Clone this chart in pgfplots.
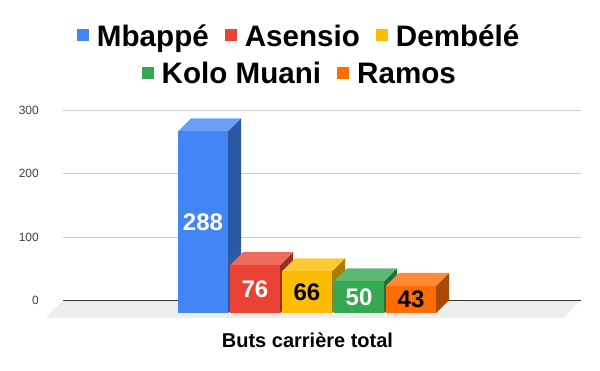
\documentclass[border=0pt]{standalone}
\usepackage{pgfplots}
\pgfplotsset{compat=1.18}
\usepackage{fontspec}
\setmainfont{Liberation Sans}
\definecolor{bF}{HTML}{4285F4}\definecolor{bS}{HTML}{2C59A3}\definecolor{bT}{HTML}{6C9EF6}
\definecolor{rF}{HTML}{EA4335}\definecolor{rS}{HTML}{9C2D23}\definecolor{rT}{HTML}{EE6B5E}
\definecolor{yF}{HTML}{FBBC04}\definecolor{yS}{HTML}{A77D03}\definecolor{yT}{HTML}{FCC935}
\definecolor{gF}{HTML}{34A853}\definecolor{gS}{HTML}{237038}\definecolor{gT}{HTML}{5DB975}
\definecolor{oF}{HTML}{FF6D01}\definecolor{oS}{HTML}{AA4901}\definecolor{oT}{HTML}{FF8A34}
\definecolor{floor}{HTML}{EEEEEE}
\definecolor{gridc}{HTML}{CCCCCC}
\definecolor{zeroc}{HTML}{333333}
\pgfplotsset{
  common/.style={
    at={(63pt,53pt)}, anchor=south west,
    width=518pt, height=207.3pt, scale only axis,
    xmin=63, xmax=581, ymin=-28.5, ymax=300,
    clip=false,
    legend image code/.code={\fill[##1] (0pt,4.7pt) rectangle (12pt,16.7pt);},
    legend style={draw=none, fill=none, inner sep=0pt, outer sep=0pt,
      nodes={inner sep=0pt, outer sep=0pt},
      cells={anchor=base west},
      font=\fontsize{29.6}{31}\selectfont\bfseries,
      /tikz/every odd column/.append style={column sep=8pt},
      /tikz/every even column/.append style={column sep=16pt}},
  }
}
\begin{document}
\begin{tikzpicture}
\path[use as bounding box] (0,0) rectangle (600pt,371pt);
\begin{axis}[common,
  axis line style={draw=none},
  xtick=\empty,
  ytick={0,100,200,300},
  ymajorgrids,
  major grid style={draw=gridc, line width=0.8pt},
  major tick length=0pt,
  yticklabel style={font=\fontsize{12}{12}\selectfont, text=black!75, inner sep=0pt, xshift=-24pt},
  /pgf/number format/assume math mode=true,
  legend columns=3,
  legend style={at={(0.027,1.3604)}, anchor=west},
]
% floor
\addplot[forget plot, draw=none, fill=floor] coordinates {(45.5,-28.5) (63,0) (581,0) (563,-28.5)};
\addplot[forget plot, draw=zeroc, line width=1pt] coordinates {(63,0) (581,0)};
% Mbappe 288
\addplot[forget plot, draw=none, fill=bS] coordinates {(228,-20.6) (241,0) (241,288) (228,267.4)};
\addplot[forget plot, draw=none, fill=bT] coordinates {(178,267.4) (228,267.4) (241,288) (191,288)};
\addplot[forget plot, draw=none, fill=bF] coordinates {(178,-20.6) (228,-20.6) (228,267.4) (178,267.4)};
% Asensio 76
\addplot[forget plot, draw=none, fill=rS] coordinates {(280,-20.6) (293,0) (293,76) (280,55.4)};
\addplot[forget plot, draw=none, fill=rT] coordinates {(230,55.4) (280,55.4) (293,76) (243,76)};
\addplot[forget plot, draw=none, fill=rF] coordinates {(230,-20.6) (280,-20.6) (280,55.4) (230,55.4)};
% Dembele 66
\addplot[forget plot, draw=none, fill=yS] coordinates {(332,-20.6) (345,0) (345,66) (332,45.4)};
\addplot[forget plot, draw=none, fill=yT] coordinates {(282,45.4) (332,45.4) (345,66) (295,66)};
\addplot[forget plot, draw=none, fill=yF] coordinates {(282,-20.6) (332,-20.6) (332,45.4) (282,45.4)};
% Kolo Muani 50
\addplot[forget plot, draw=none, fill=gS] coordinates {(384,-20.6) (397,0) (397,50) (384,29.4)};
\addplot[forget plot, draw=none, fill=gT] coordinates {(334,29.4) (384,29.4) (397,50) (347,50)};
\addplot[forget plot, draw=none, fill=gF] coordinates {(334,-20.6) (384,-20.6) (384,29.4) (334,29.4)};
% Ramos 43
\addplot[forget plot, draw=none, fill=oS] coordinates {(436,-20.6) (449,0) (449,43) (436,22.4)};
\addplot[forget plot, draw=none, fill=oT] coordinates {(386,22.4) (436,22.4) (449,43) (399,43)};
\addplot[forget plot, draw=none, fill=oF] coordinates {(386,-20.6) (436,-20.6) (436,22.4) (386,22.4)};
% value labels
\node[text=white, font=\fontsize{24}{24}\selectfont\bfseries] at (axis cs:203,123.4) {288};
\node[text=white, font=\fontsize{24}{24}\selectfont\bfseries] at (axis cs:255,17.4) {76};
\node[text=black, font=\fontsize{24}{24}\selectfont\bfseries] at (axis cs:307,12.4) {66};
\node[text=white, font=\fontsize{24}{24}\selectfont\bfseries] at (axis cs:359,4.4) {50};
\node[text=black, font=\fontsize{24}{24}\selectfont\bfseries] at (axis cs:411,0.9) {43};
% axis title
\node[anchor=base, font=\fontsize{20}{20}\selectfont\bfseries, text=black] at (axis cs:307.5,-74.5) {Buts carrière total};
\addlegendimage{fill=bF, draw=none}\addlegendentry{Mbappé}
\addlegendimage{fill=rF, draw=none}\addlegendentry{Asensio}
\addlegendimage{fill=yF, draw=none}\addlegendentry{Dembélé}
\end{axis}
\begin{axis}[common, hide axis,
  legend columns=2,
  legend style={at={(0.152,1.177)}, anchor=west},
]
\addlegendimage{fill=gF, draw=none}\addlegendentry{Kolo Muani}
\addlegendimage{fill=oF, draw=none}\addlegendentry{Ramos}
\end{axis}
\end{tikzpicture}
\end{document}
